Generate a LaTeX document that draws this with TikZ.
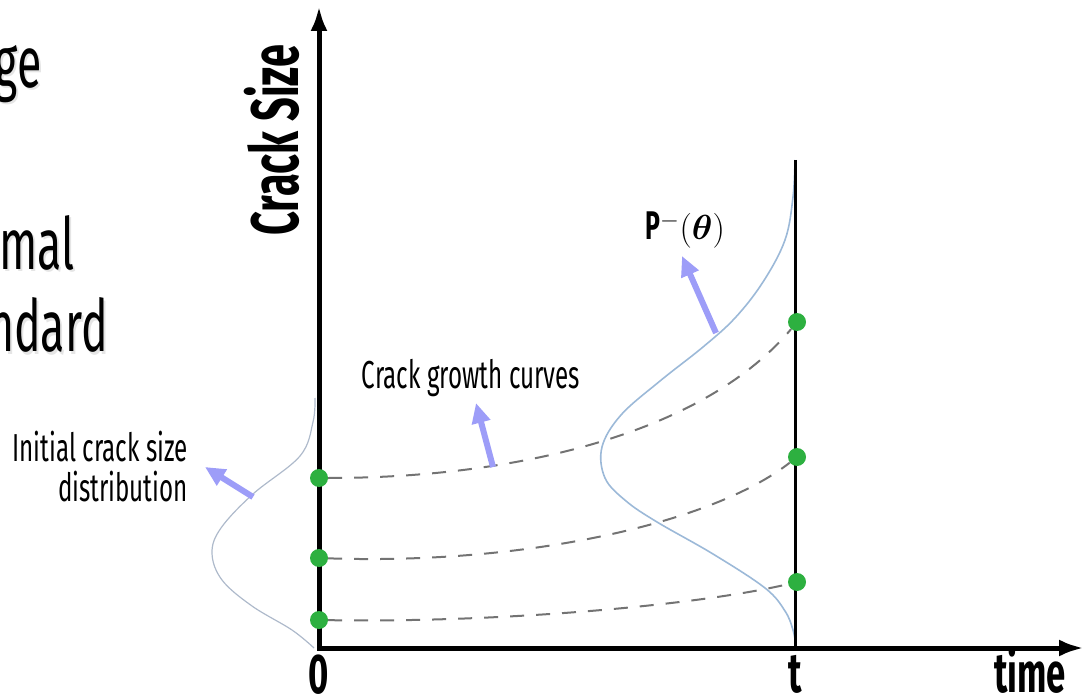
\documentclass[tikz,border=0pt]{standalone}
\usepackage{fontspec}
\usepackage{amsmath}
\usepackage{bm}
\usepackage{tikz}
\usetikzlibrary{arrows.meta, positioning, calc}
\newfontfamily\agency[FakeStretch=0.62]{Fira Sans}
\definecolor{dotgreen}{HTML}{2DB040}
\definecolor{pointerblue}{HTML}{9D9DF8}
\definecolor{pdfblue}{HTML}{9CB9D8}
\definecolor{pdfgrey}{HTML}{AEBACB}

\begin{document}
\begin{tikzpicture}[x=1pt, y=-1pt,
            axis/.style={line width=5pt},
            dot/.style={circle, fill=dotgreen, inner sep=0pt, minimum size=18pt},
            growth/.style={dash pattern=on 14pt off 12pt, line width=2pt, draw=black!55},
            pointer/.style={line width=6pt, draw=pointerblue, -{Triangle[length=20pt, width=18pt]}},
            density/.style={line width=1.6pt, draw=pdfblue},
            note/.style={font=\agency\fontsize{39}{40}\selectfont, inner sep=0pt},
            axislabel/.style={font=\agency\bfseries\fontsize{56}{60}\selectfont, inner sep=0pt},
            slide/.style={font=\agency\fontsize{72}{80}\selectfont, inner sep=0pt, anchor=base east}
        ]

        \useasboundingbox (0,0) rectangle (1085,695);
        \clip (0,0) rectangle (1085,695);

        % Folienrest
        \node[slide, text=black!10] (geshadow) at (44,90) {ge};
        \node[slide] (ge) at (42,88) {ge};
        \node[slide, text=black!10] (malshadow) at (77,272) {mal};
        \node[slide] (mal) at (75,270) {mal};
        \node[slide, text=black!10] (ndardshadow) at (110,354) {ndard};
        \node[slide] (ndard) at (108,352) {ndard};

        % Verteilungen
        \draw[density, draw=pdfgrey, line width=1.2pt] plot[smooth, tension=0.6] coordinates {(315,398) (313,422) (300,456) (253,494) (221,528) (212,553) (222,580) (252,606) (292,630) (314,648)};
        \draw[density] plot[smooth, tension=0.6] coordinates {(795,160) (793,197) (785,240) (763,282) (735,318) (703,347) (660,381) (621,415) (602,447) (605,478) (626,501) (657,522) (713,554) (765,588) (785,611) (793,630) (796,646)};

        % Achsen
        \coordinate (o) at (319,648);
        \coordinate (ytop) at (319,6);
        \coordinate (xend) at (1084,648);
        \draw[axis, {Latex[length=25pt, width=17pt]}-{Latex[length=25pt, width=17pt]}] (ytop) -- (o) -- (xend);
        \coordinate (ttop) at (795,160);
        \coordinate (tfoot) at (795,648);
        \draw[line width=3pt] (ttop) -- (tfoot);

        \node[axislabel, rotate=90, font=\agency\bfseries\fontsize{67}{70}\selectfont] (ylabel) at (272,140) {Crack Size};
        \node[axislabel, below=7pt of o] (zero) {0};
        \node[axislabel, below=7pt of tfoot] (tlabel) {t};
        \node[axislabel, anchor=base east] (xlabel) at (1066,692) {time};

        % Punkte
        \node[dot] (a0) at (319,478) {};
        \node[dot] (b0) at (319,558) {};
        \node[dot] (c0) at (319,620) {};
        \node[dot] (a1) at (797,322) {};
        \node[dot] (b1) at (797,457) {};
        \node[dot] (c1) at (797,582) {};

        % Risswachstum
        \draw[growth] (a0) .. controls (520,478) and (705,432) .. (a1);
        \draw[growth] (b0) .. controls (520,565) and (710,525) .. (b1);
        \draw[growth] (c0) .. controls (500,623) and (700,605) .. (c1);

        % Beschriftung
        \node[note, align=right, anchor=east] (initlabel) at (188,467) {Initial crack size\\distribution};
        \node[note, anchor=base] (growthlabel) at (471,388) {Crack growth curves};
        \node[inner sep=0pt, anchor=base west, font=\fontsize{24}{28}\selectfont] (plabel) at (645,240) {{\agency\bfseries\fontsize{40}{40}\selectfont P}\scalebox{1.4}{$^{-}(\bm{\theta})$}};

        \coordinate (p1tail) at (253,497);
        \coordinate (p1tip) at (205,467);
        \coordinate (p2tail) at (493,467);
        \coordinate (p2tip) at (476,403);
        \coordinate (p3tail) at (716,333);
        \coordinate (p3tip) at (682,256);
        \draw[pointer] (p1tail) -- (p1tip);
        \draw[pointer] (p2tail) -- (p2tip);
        \draw[pointer] (p3tail) -- (p3tip);

    \end{tikzpicture}
\end{document}
